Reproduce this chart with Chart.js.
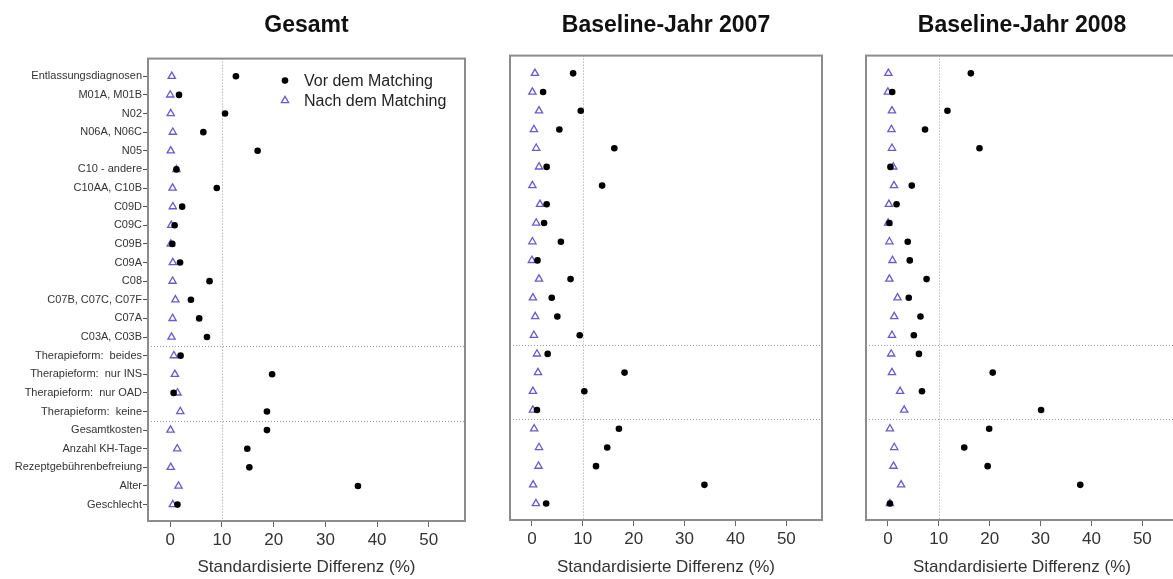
<!DOCTYPE html>
<html>
<head>
<meta charset="utf-8">
<script src="https://cdn.jsdelivr.net/npm/chart.js@4.4.1/dist/chart.umd.min.js"></script>
<style>
    html, body { margin: 0; padding: 0; background: #fff; overflow: hidden; }
    body { width: 1173px; height: 579px; position: relative; }
    .panel { position: absolute; top: 0; height: 579px; }
</style>
</head>
<body>
<div class="panel" style="left:0;width:480px"><canvas id="gesamt" width="480" height="579"></canvas></div>
<div class="panel" style="left:500px;width:332px"><canvas id="jahr2007" width="332" height="579"></canvas></div>
<div class="panel" style="left:856px;width:332px"><canvas id="jahr2008" width="332" height="579"></canvas></div>
<script>
// ── Data ──────────────────────────────────────────
const rowLabels = [
    'Entlassungsdiagnosen', 'M01A, M01B', 'N02', 'N06A, N06C', 'N05',
    'C10 - andere', 'C10AA, C10B', 'C09D', 'C09C', 'C09B', 'C09A', 'C08',
    'C07B, C07C, C07F', 'C07A', 'C03A, C03B',
    'Therapieform:  beides', 'Therapieform:  nur INS', 'Therapieform:  nur OAD', 'Therapieform:  keine',
    'Gesamtkosten', 'Anzahl KH-Tage', 'Rezeptgebührenbefreiung', 'Alter', 'Geschlecht'
];

const gesamtVor  = [12.7, 1.7, 10.6, 6.4, 16.9, 1.2, 9.0, 2.3, 0.85, 0.4, 1.9, 7.6, 4.0, 5.6, 7.1, 2.0, 19.7, 0.65, 18.7, 18.7, 14.9, 15.3, 36.3, 1.4];
const gesamtNach = [0.3, 0.0, 0.1, 0.5, 0.1, 1.2, 0.45, 0.5, 0.2, 0.1, 0.5, 0.45, 1.0, 0.45, 0.25, 0.7, 0.9, 1.4, 1.95, 0.05, 1.35, 0.1, 1.6, 0.5];

const jahr2007Vor  = [8.1, 2.2, 9.6, 5.4, 16.2, 2.9, 13.8, 2.9, 2.4, 5.7, 1.1, 7.6, 3.9, 5.0, 9.4, 3.1, 18.2, 10.3, 1.0, 17.1, 14.8, 12.6, 33.9, 2.8];
const jahr2007Nach = [0.6, 0.1, 1.4, 0.4, 0.85, 1.4, 0.1, 1.6, 0.85, 0.1, 0.0, 1.4, 0.2, 0.65, 0.4, 1.0, 1.2, 0.2, 0.2, 0.45, 1.4, 1.3, 0.25, 0.8];

const jahr2008Vor  = [16.3, 0.85, 11.7, 7.3, 18.0, 0.5, 4.7, 1.7, 0.3, 3.9, 4.3, 7.6, 4.1, 6.4, 5.1, 6.1, 20.6, 6.7, 30.1, 19.9, 15.0, 19.6, 37.8, 0.4];
const jahr2008Nach = [0.1, 0.0, 0.8, 0.7, 0.8, 1.05, 1.2, 0.2, 0.05, 0.3, 0.9, 0.3, 1.9, 1.25, 0.8, 0.65, 0.8, 2.4, 3.2, 0.4, 1.25, 1.1, 2.6, 0.4];

const xTicks = [0, 10, 20, 30, 40, 50];
const refX = [10];
const refY = [15.5, 19.5];
const seriesNames = ['Vor dem Matching', 'Nach dem Matching'];

// ── Styles ────────────────────────────────────────
const FONT = 'Arial, "Liberation Sans", sans-serif';
const COLORS = {
    dot: '#000000',
    tri: '#6a5acd',
    frame: '#8c8c8c',
    ref: '#9a9a9a',
    text: '#333333',
    title: '#111111'
};
Chart.defaults.font.family = FONT;

// frame box + dotted reference lines
const framePlugin = {
    id: 'frame',
    beforeDatasetsDraw(chart) {
        const { ctx, chartArea: a, scales: { x, y } } = chart;
        ctx.save();
        ctx.strokeStyle = COLORS.ref;
        ctx.lineWidth = 1;
        ctx.setLineDash([1, 2]);
        refX.forEach(v => {
            const px = Math.round(x.getPixelForValue(v)) + 0.5;
            ctx.beginPath(); ctx.moveTo(px, a.top); ctx.lineTo(px, a.bottom); ctx.stroke();
        });
        refY.forEach(v => {
            const py = Math.round(y.getPixelForValue(v)) + 0.5;
            ctx.beginPath(); ctx.moveTo(a.left, py); ctx.lineTo(a.right, py); ctx.stroke();
        });
        ctx.restore();
    },
    afterDraw(chart) {
        const { ctx, chartArea: a } = chart;
        ctx.save();
        ctx.strokeStyle = COLORS.frame;
        ctx.lineWidth = 2;
        ctx.strokeRect(a.left, a.top, a.right - a.left, a.bottom - a.top);
        ctx.restore();
    }
};

// legend in the upper right of the plot area
const legendPlugin = {
    id: 'cornerLegend',
    afterDraw(chart) {
        const { ctx, chartArea: a } = chart;
        const x0 = a.right - 180;
        let y0 = a.top + 22;
        ctx.save();
        ctx.font = '16px ' + FONT;
        ctx.textBaseline = 'middle';
        chart.data.datasets.forEach(ds => {
            const r = ds.pointRadius;
            ctx.fillStyle = ds.backgroundColor;
            ctx.strokeStyle = ds.borderColor;
            ctx.lineWidth = ds.borderWidth;
            ctx.beginPath();
            if (ds.pointStyle === 'circle') {
                ctx.arc(x0, y0, r, 0, Math.PI * 2);
                ctx.fill();
            } else {
                ctx.moveTo(x0, y0 - r);
                ctx.lineTo(x0 + r * 0.866, y0 + r * 0.5);
                ctx.lineTo(x0 - r * 0.866, y0 + r * 0.5);
                ctx.closePath();
                ctx.stroke();
            }
            ctx.fillStyle = '#222';
            ctx.fillText(ds.label, x0 + 19, y0 + 1);
            y0 += 20;
        });
        ctx.restore();
    }
};

function toPoints(values) {
    return values.map((v, i) => ({ x: v, y: i + 1 }));
}

function buildPanel(id, title, vor, nach, opts) {
    const plugins = [framePlugin];
    if (opts.legend) plugins.push(legendPlugin);

    return new Chart(document.getElementById(id), {
        type: 'scatter',
        data: {
            datasets: [{
                label: seriesNames[0],
                data: toPoints(vor),
                pointStyle: 'circle',
                pointRadius: 3.3,
                backgroundColor: COLORS.dot,
                borderColor: COLORS.dot,
                borderWidth: 0
            }, {
                label: seriesNames[1],
                data: toPoints(nach),
                pointStyle: 'triangle',
                pointRadius: 4.2,
                backgroundColor: 'rgba(0,0,0,0)',
                borderColor: COLORS.tri,
                borderWidth: 1.3
            }]
        },
        options: {
            responsive: false,
            animation: false,
            events: [],
            layout: { padding: { left: opts.showY ? 0 : 10, right: 10 + (opts.extraRight || 0), top: 0, bottom: 0 } },
            plugins: {
                legend: { display: false },
                tooltip: { enabled: false },
                title: {
                    display: true,
                    text: title,
                    fullSize: false,
                    color: COLORS.title,
                    font: { size: 23, weight: 'bold' },
                    padding: { top: 12, bottom: opts.titleGap }
                }
            },
            scales: {
                x: {
                    type: 'linear',
                    min: -4.3,
                    max: 57,
                    afterBuildTicks: s => { s.ticks = xTicks.map(v => ({ value: v })); },
                    afterFit: s => { s.height = opts.bottomHeight; },
                    ticks: { color: COLORS.text, font: { size: 17 }, padding: 3, maxRotation: 0 },
                    grid: { drawOnChartArea: false, drawTicks: true, tickLength: 6, color: '#666' },
                    border: { display: false },
                    title: {
                        display: true,
                        text: 'Standardisierte Differenz (%)',
                        color: COLORS.text,
                        font: { size: 17 },
                        padding: { top: 0, bottom: 1 }
                    }
                },
                y: {
                    type: 'linear',
                    reverse: true,
                    min: 0.05,
                    max: 24.88,
                    display: opts.showY,
                    afterBuildTicks: s => { s.ticks = rowLabels.map((_, i) => ({ value: i + 1 })); },
                    afterFit: s => { if (opts.showY) s.width = 148; },
                    ticks: {
                        autoSkip: false,
                        color: COLORS.text,
                        font: { size: 11 },
                        padding: 1,
                        callback: (v, i) => rowLabels[i]
                    },
                    grid: { drawOnChartArea: false, drawTicks: true, tickLength: 5, color: '#555' },
                    border: { display: false }
                }
            }
        },
        plugins
    });
}

buildPanel('gesamt', 'Gesamt', gesamtVor, gesamtNach,
    { showY: true, legend: true, titleGap: 19, bottomHeight: 58, extraRight: 5 });
buildPanel('jahr2007', 'Baseline-Jahr 2007', jahr2007Vor, jahr2007Nach,
    { showY: false, legend: false, titleGap: 16, bottomHeight: 59 });
buildPanel('jahr2008', 'Baseline-Jahr 2008', jahr2008Vor, jahr2008Nach,
    { showY: false, legend: false, titleGap: 16, bottomHeight: 59 });
</script>
</body>
</html>
